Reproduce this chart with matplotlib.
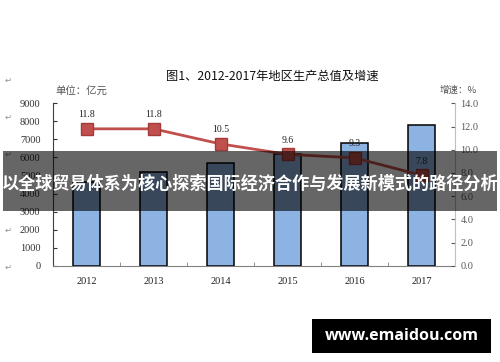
import matplotlib as mpl
mpl.use('Agg')
import matplotlib.pyplot as plt
from matplotlib.patches import Rectangle
import numpy as np

plt.rcParams['font.family'] = ['Liberation Serif', 'Noto Sans CJK SC', 'DejaVu Sans']

# data
years = ['2012', '2013', '2014', '2015', '2016', '2017']
gdp = [4650, 5170, 5690, 6200, 6800, 7800]      # 亿元
growth = [11.8, 11.8, 10.5, 9.6, 9.3, 7.8]      # %
left_ticks = [0, 1000, 2000, 3000, 4000, 5000, 6000, 7000, 8000, 9000]
right_ticks = [0, 2, 4, 6, 8, 10, 12, 14]

cjk = ['Noto Sans CJK SC', 'DejaVu Sans']

fig = plt.figure(figsize=(5.0, 3.62), dpi=100)
ax = fig.add_axes([0.106, 0.266, 0.804, 0.4486])
x = np.arange(len(years))
ax.bar(x, gdp, width=0.4, color='#8DB3E2', edgecolor='black', linewidth=1.1, zorder=2)
ax.set_xlim(-0.5, len(years) - 0.5)
ax.set_ylim(0, 9000)
ax.set_yticks(left_ticks)
ax.set_xticks(x)
ax.set_xticklabels(years)
ax.set_xticks(np.arange(-0.5, len(years)), minor=True)
ax.tick_params(axis='x', which='major', length=0, pad=8, labelsize=7.5, colors='#222222')
ax.tick_params(axis='x', which='minor', direction='in', length=3, color='#808080')
ax.tick_params(axis='y', direction='in', length=3, pad=9, labelsize=7.5,
               colors='#333333')
for s in ['top', 'right']:
    ax.spines[s].set_visible(False)
ax.spines['left'].set_color('#404040')
ax.spines['bottom'].set_color('#808080')

ax2 = ax.twinx()
ax2.plot(x, growth, color='#C0504D', linewidth=2, marker='s', markersize=8,
         markerfacecolor='#C0504D', markeredgecolor='#A33B38', zorder=3)
for xi, g in zip(x, growth):
    ax2.annotate('%.1f' % g, xy=(xi, g), xytext=(0, 7), textcoords='offset points',
                 ha='center', va='bottom', fontsize=7, color='#222222')
ax2.set_ylim(0, 14)
ax2.set_yticks(right_ticks)
ax2.set_yticklabels(['%.1f' % t for t in right_ticks])
ax2.tick_params(axis='y', direction='in', length=3, pad=4, labelsize=7.5,
                colors='#595959')
for s in ['top', 'left', 'bottom']:
    ax2.spines[s].set_visible(False)
ax2.spines['right'].set_color('#BFBFBF')

fig.text(0.545, 0.788, '图1、2012-2017年地区生产总值及增速', ha='center', va='center',
         fontsize=8.8, family=cjk, color='#111111')
fig.text(0.110, 0.746, '单位：亿元', ha='left', va='center', fontsize=7.5,
         family=cjk, color='#555555')
fig.text(0.880, 0.751, '增速：%', ha='left', va='center', fontsize=6.8,
         family=cjk, color='#555555')

# word paragraph marks on the left
for yy in [80, 117, 154, 230, 267]:
    fig.text(0.016, 1 - yy / 362, '↵', ha='center', va='center', fontsize=6,
             family='DejaVu Sans', color='#909090')

# overlay band with title text
fig.patches.append(Rectangle((0.006, 1 - 210.5 / 362), 0.988, 60 / 362,
                             transform=fig.transFigure, facecolor='black',
                             alpha=0.6, edgecolor='none', zorder=10))
fig.text(0.5, 1 - 184 / 362, '以全球贸易体系为核心探索国际经济合作与发展新模式的路径分析',
         ha='center', va='center', fontsize=12.3, fontweight='bold', family=cjk,
         color='white', zorder=11)

# watermark box
fig.patches.append(Rectangle((312 / 500, 1 - 353 / 362), 179 / 500, 34 / 362,
                             transform=fig.transFigure, facecolor='black',
                             edgecolor='none', zorder=10))
fig.text(401.5 / 500, 1 - 336 / 362, 'www.emaidou.com', ha='center', va='center',
         fontsize=11.5, fontweight='bold', family=['Open Sans', 'DejaVu Sans'],
         color='white', zorder=11)

plt.savefig('out.png', dpi=100)
